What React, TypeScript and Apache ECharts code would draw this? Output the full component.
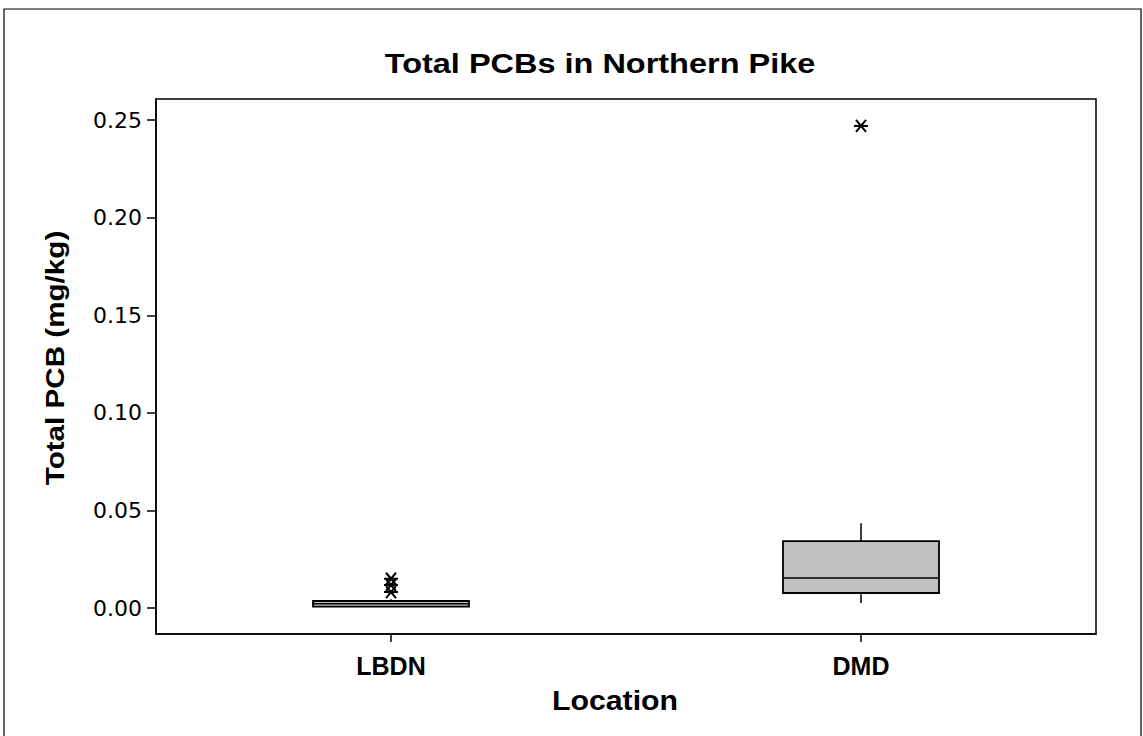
import React, { useEffect, useRef } from "react";
import * as echarts from "echarts";

const categories = ["LBDN", "DMD"];
// [min, Q1, median, Q3, max]
const boxLBDN = [0.0005, 0.0007, 0.0022, 0.0036, 0.0045];
const boxDMD = [0.0026, 0.0077, 0.0154, 0.0343, 0.0435];
const outlierLBDN = [0.015, 0.0118, 0.0082];
const outlierDMD = [0.247];
const yTicks = [0, 0.05, 0.1, 0.15, 0.2, 0.25];

const chartTitle = "Total PCBs in Northern Pike";
const xTitle = "Location";
const yTitle = "Total PCB (mg/kg)";

export default function App() {
  const ref = useRef<HTMLDivElement>(null);
  useEffect(() => {
    if (!ref.current) return;
    const chart = echarts.init(ref.current, null, { renderer: "svg" });
    const boxData = [
      [0, ...boxLBDN],
      [1, ...boxDMD],
    ];
    const outliers: number[][] = [];
    outlierLBDN.forEach((v) => outliers.push([0, v]));
    outlierDMD.forEach((v) => outliers.push([1, v]));
    const stroke = { stroke: "#000", lineWidth: 1.5 };
    const boldFont = "Liberation Sans, Arial";
    chart.setOption({
      animation: false,
      backgroundColor: "#fff",
      graphic: [
        {
          type: "rect",
          shape: { x: 4, y: 9, width: 1137, height: 740 },
          style: { fill: "none", stroke: "#000", lineWidth: 1.2 },
          silent: true,
        },
        {
          type: "text",
          x: 600,
          y: 63,
          scaleX: 1.16,
          style: {
            text: chartTitle,
            font: `bold 28px ${boldFont}`,
            fill: "#000",
            textAlign: "center",
            textVerticalAlign: "middle",
          },
        },
        {
          type: "text",
          x: 615,
          y: 700,
          scaleX: 1.08,
          style: {
            text: xTitle,
            font: `bold 28px ${boldFont}`,
            fill: "#000",
            textAlign: "center",
            textVerticalAlign: "middle",
          },
        },
        {
          type: "text",
          x: 55,
          y: 358,
          rotation: Math.PI / 2,
          scaleX: 1.14,
          style: {
            text: yTitle,
            font: `bold 26px ${boldFont}`,
            fill: "#000",
            textAlign: "center",
            textVerticalAlign: "middle",
          },
        },
      ],
      grid: {
        left: 156,
        right: 1143 - 1096,
        top: 99,
        bottom: 736 - 634,
        show: true,
        borderColor: "#000",
        borderWidth: 1.5,
        backgroundColor: "transparent",
      },
      xAxis: {
        type: "category",
        data: categories,
        boundaryGap: true,
        axisLine: { show: true, onZero: false, lineStyle: { color: "#000", width: 1.5 } },
        axisTick: {
          show: true,
          alignWithLabel: true,
          length: 8,
          lineStyle: { color: "#000", width: 1.5 },
        },
        axisLabel: {
          fontFamily: boldFont,
          fontWeight: "bold",
          fontSize: 25,
          color: "#000",
          margin: 19,
        },
        splitLine: { show: false },
      },
      yAxis: {
        type: "value",
        min: -0.0133,
        max: 0.2608,
        axisLine: { show: true, lineStyle: { color: "#000", width: 1.5 } },
        axisTick: {
          show: true,
          length: 9,
          lineStyle: { color: "#000", width: 1.5 },
          customValues: yTicks,
        },
        axisLabel: {
          fontFamily: "DejaVu Sans, Verdana",
          fontSize: 22,
          color: "#000",
          margin: 14,
          customValues: yTicks,
          formatter: (v: number) => v.toFixed(2),
        },
        splitLine: { show: false },
      },
      series: [
        {
          type: "custom",
          data: boxData,
          encode: { x: 0, y: [1, 2, 3, 4, 5] },
          renderItem: (params: any, api: any) => {
            const c = api.value(0);
            const pMin = api.coord([c, api.value(1)]);
            const pQ1 = api.coord([c, api.value(2)]);
            const pMed = api.coord([c, api.value(3)]);
            const pQ3 = api.coord([c, api.value(4)]);
            const pMax = api.coord([c, api.value(5)]);
            const hw = 78;
            const cx = pMed[0];
            return {
              type: "group",
              children: [
                { type: "line", shape: { x1: cx, y1: pMin[1], x2: cx, y2: pQ1[1] }, style: stroke },
                { type: "line", shape: { x1: cx, y1: pQ3[1], x2: cx, y2: pMax[1] }, style: stroke },
                {
                  type: "rect",
                  shape: { x: cx - hw, y: pQ3[1], width: hw * 2, height: pQ1[1] - pQ3[1] },
                  style: { fill: "#c0c0c0", stroke: "#000", lineWidth: 1.8 },
                },
                { type: "line", shape: { x1: cx - hw, y1: pMed[1], x2: cx + hw, y2: pMed[1] }, style: stroke },
              ],
            };
          },
        },
        {
          type: "custom",
          data: outliers,
          encode: { x: 0, y: 1 },
          renderItem: (params: any, api: any) => {
            const p = api.coord([api.value(0), api.value(1)]);
            const s = { stroke: "#000", lineWidth: 2 };
            return {
              type: "group",
              children: [
                { type: "line", shape: { x1: p[0] - 7, y1: p[1], x2: p[0] + 7, y2: p[1] }, style: s },
                { type: "line", shape: { x1: p[0] - 5, y1: p[1] - 6, x2: p[0] + 5, y2: p[1] + 6 }, style: s },
                { type: "line", shape: { x1: p[0] - 5, y1: p[1] + 6, x2: p[0] + 5, y2: p[1] - 6 }, style: s },
              ],
            };
          },
        },
      ],
    });
    return () => chart.dispose();
  }, []);
  return (
    <div
      ref={ref}
      style={{ position: "absolute", left: 0, top: 0, width: 1143, height: 736 }}
    />
  );
}
